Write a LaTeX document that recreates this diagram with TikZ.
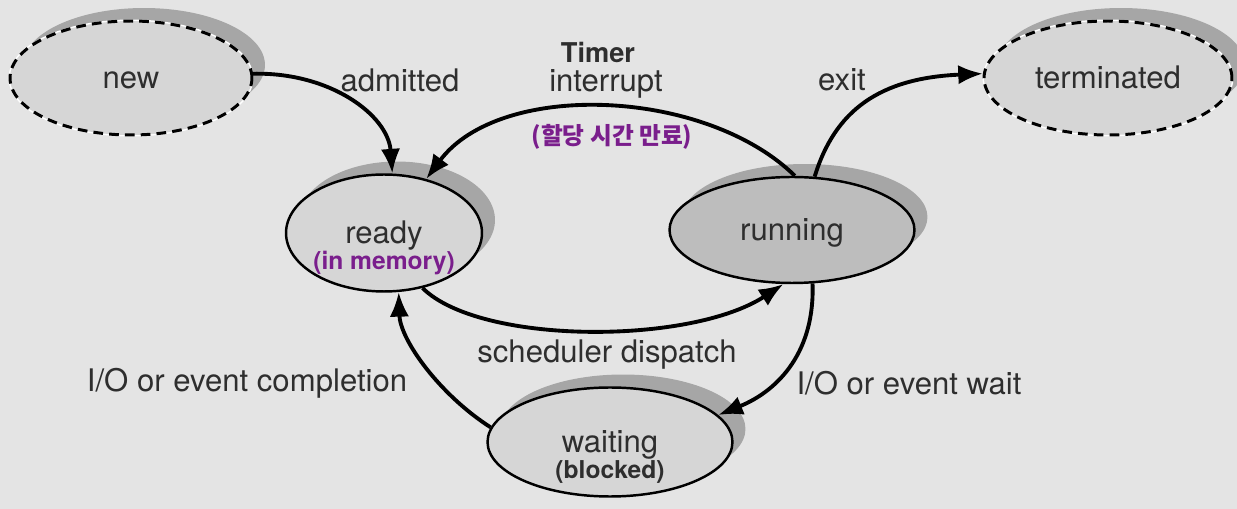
\documentclass[tikz,border=0pt]{standalone}
\usepackage{fontspec}
\setmainfont{TeX Gyre Heros}
\newfontfamily\korfont{Noto Sans CJK KR}
\usetikzlibrary{arrows.meta, shapes.geometric, shadows}
\definecolor{bggray}{HTML}{E4E4E4}
\definecolor{stategray}{HTML}{D6D6D6}
\definecolor{rungray}{HTML}{BDBDBD}
\definecolor{shadowgray}{HTML}{A6A6A6}
\definecolor{textgray}{HTML}{2E2E2E}
\definecolor{notepurple}{HTML}{7A1E8C}

\begin{document}
\begin{tikzpicture}[x=0.02cm, y=-0.02cm,
    every node/.style={text=textgray, font=\fontsize{17.7}{20}\selectfont},
    state/.style={ellipse, draw=black, line width=1.4pt, fill=stategray, inner sep=0pt,
        text height=12pt, text depth=0pt,
        drop shadow={shadow xshift=0.26cm, shadow yshift=0.26cm, fill=shadowgray, opacity=1}},
    endstate/.style={state, line width=1.7pt, dash pattern=on 5.5pt off 3.5pt,
        preaction={draw=white, solid, line width=1.7pt}},
    note/.style={text=notepurple, font=\fontsize{14}{16}\selectfont\bfseries},
    trans/.style={-{Latex[length=14pt,width=11pt]}, line width=2.2pt, black}
]
    % Background
    \fill[bggray] (0,0) rectangle (1237,509);

    % States
    \node[endstate, minimum width=4.84cm, minimum height=2.28cm] (new) at (131,78) {new};
    \node[endstate, minimum width=4.96cm, minimum height=2.28cm] (terminated) at (1108,78) {terminated};
    \node[state, minimum width=3.92cm, minimum height=2.34cm] (ready) at (384,233) {ready};
    \node[state, fill=rungray, minimum width=4.9cm, minimum height=2.12cm] (running) at (792,230) {running};
    \node[state, minimum width=4.9cm, minimum height=2.18cm] (waiting) at (610,442) {waiting};

    % Notes inside states
    \node[note] (readynote) at ([yshift=-0.6cm]ready.center) {(in memory)};
    \node[note, text=textgray] (waitnote) at ([yshift=-0.6cm]waiting.center) {(blocked)};

    % Transitions
    \draw[trans] (new.2) .. controls (330,72) and (388,115) .. (ready.82);
    \draw[trans] (running.87) .. controls (705,88) and (500,80) .. (ready.52);
    \draw[trans] (running.67) .. controls (835,110) and (880,78) .. (terminated.178);
    \draw[trans] (ready.-55) .. controls (480,345) and (690,345) .. (running.-99);
    \draw[trans] (running.-69) .. controls (815,350) and (780,390) .. (waiting.14);
    \draw[trans] (waiting.173) .. controls (440,395) and (400,340) .. (ready.-76);

    % Transition labels
    \node (admitted) at (400,80) {admitted};
    \node[inner sep=1pt, font=\fontsize{15.5}{18}\selectfont\bfseries] (timer) at (598,52) {Timer};
    \node[inner sep=1pt] (interrupt) at (606,84) {interrupt};
    \node[note, font=\fontsize{13.5}{16}\selectfont\korfont\bfseries] (quantum) at (612,137) {(할당 시간 만료)};
    \node (exit) at (842,80) {exit};
    \node (dispatch) at (607,355) {scheduler dispatch};
    \node (completion) at (247,383) {I/O or event completion};
    \node (wait) at (909,383) {I/O or event wait};
\end{tikzpicture}
\end{document}
